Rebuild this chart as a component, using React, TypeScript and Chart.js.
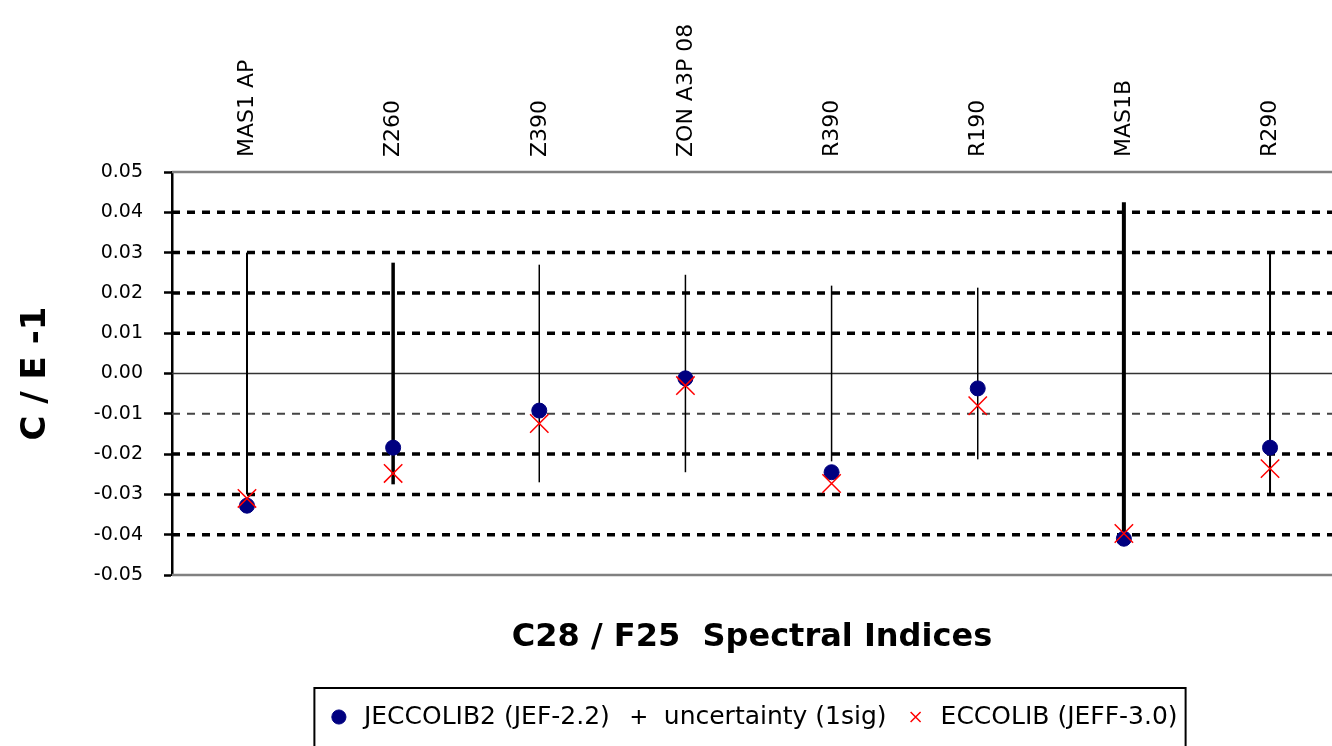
import React, { useEffect, useRef } from 'react';
import { Chart, registerables } from 'chart.js';

Chart.register(...registerables);

// ---- data ----
const categories = ['MAS1 AP', 'Z260', 'Z390', 'ZON A3P 08', 'R390', 'R190', 'MAS1B', 'R290'];
const jeccolib2 = [-0.0328, -0.0184, -0.0092, -0.0012, -0.0245, -0.0037, -0.0410, -0.0184];
const eccolib = [-0.0310, -0.0248, -0.0124, -0.0030, -0.0273, -0.0080, -0.0397, -0.0236];
const uncertainty = [0.0300, 0.0275, 0.0270, 0.0245, 0.0218, 0.0213, 0.0425, 0.0300];
const yTicks = [-0.05, -0.04, -0.03, -0.02, -0.01, 0, 0.01, 0.02, 0.03, 0.04, 0.05];

// ---- styles ----
const barWidths = [2, 3.5, 1.5, 1.5, 1.5, 1.5, 4, 2];
const X_MIN = -0.513;
const X_MAX = 7.424;
const FONT = "'DejaVu Sans', 'Liberation Sans', Arial, sans-serif";

function gridStyle(v: number) {
  if (Math.abs(Math.abs(v) - 0.05) < 1e-9) return { dash: [] as number[], width: 2.5, color: '#808080' };
  if (Math.abs(v) < 1e-9) return { dash: [] as number[], width: 1.5, color: '#333333' };
  if (Math.abs(v + 0.01) < 1e-9) return { dash: [8, 7], width: 2, color: '#444444' };
  return { dash: [8, 7], width: 3.5, color: '#000000' };
}

const zeroPadding = () => ({ left: 0, top: 0, right: 0, bottom: 0 });

export default function App() {
  const ref = useRef<HTMLCanvasElement>(null);

  useEffect(() => {
    const canvas = ref.current!;
    Chart.defaults.font.family = FONT;

    const barData: { x: number; y: number }[] = [];
    uncertainty.forEach((u, i) => {
      barData.push({ x: i, y: -u });
      barData.push({ x: i, y: u });
      barData.push({ x: i, y: NaN });
    });

    const gridPlugin = {
      id: 'gridLines',
      beforeDatasetsDraw(chart: any) {
        const { ctx, chartArea, scales } = chart;
        const y = scales.y;
        ctx.save();
        yTicks.forEach((v) => {
          const py = y.getPixelForValue(v);
          const s = gridStyle(v);
          ctx.beginPath();
          ctx.setLineDash(s.dash);
          ctx.lineWidth = s.width;
          ctx.strokeStyle = s.color;
          ctx.moveTo(chartArea.left, py);
          ctx.lineTo(chartArea.right, py);
          ctx.stroke();
        });
        ctx.restore();
      },
    };

    const legendBoxPlugin = {
      id: 'legendBox',
      afterDraw(chart: any) {
        const lg = chart.legend;
        const boxes = lg && lg.legendHitBoxes;
        if (!boxes || !boxes.length) return;
        const left = Math.min(...boxes.map((b: any) => b.left)) - 12;
        const right = Math.max(...boxes.map((b: any) => b.left + b.width)) + 8;
        const ctx = chart.ctx;
        ctx.save();
        ctx.strokeStyle = '#000';
        ctx.lineWidth = 2;
        ctx.strokeRect(left, lg.top, right - left, 120);
        ctx.restore();
      },
    };

    const chart = new Chart(canvas, {
      type: 'scatter',
      data: {
        datasets: [
          {
            type: 'scatter',
            label: 'JECCOLIB2 (JEF-2.2)',
            data: jeccolib2.map((y, i) => ({ x: i, y })),
            pointStyle: 'circle',
            pointRadius: 7.5,
            backgroundColor: '#000080',
            borderColor: '#000080',
            borderWidth: 1,
            order: 1,
          },
          {
            type: 'line',
            label: 'uncertainty (1sig)',
            data: barData,
            borderColor: '#000000',
            backgroundColor: '#000000',
            borderWidth: 1.5,
            pointRadius: 0,
            pointHoverRadius: 0,
            pointStyle: 'cross',
            pointBorderWidth: 2,
            spanGaps: false,
            segment: {
              borderWidth: (c: any) => barWidths[Math.floor(c.p0DataIndex / 3)],
            },
            order: 2,
          } as any,
          {
            type: 'scatter',
            label: 'ECCOLIB (JEFF-3.0)',
            data: eccolib.map((y, i) => ({ x: i, y })),
            pointStyle: 'crossRot',
            pointRadius: 13,
            backgroundColor: '#ff0000',
            borderColor: '#ff0000',
            borderWidth: 1.5,
            order: 0,
          },
        ],
      },
      options: {
        responsive: false,
        animation: false,
        events: [],
        layout: { autoPadding: false, padding: { top: 0, left: 0, right: 0, bottom: 6.5 } },
        scales: {
          x: {
            type: 'linear',
            position: 'top',
            min: X_MIN,
            max: X_MAX,
            grid: { display: false, drawTicks: false },
            border: { display: false },
            afterBuildTicks: (s: any) => {
              s.ticks = categories.map((_, i) => ({ value: i }));
            },
            afterFit: (s: any) => {
              s.height = 172;
              s.paddingLeft = 0;
              s.paddingRight = 0;
              s.getPadding = zeroPadding;
            },
            ticks: {
              autoSkip: false,
              minRotation: 90,
              maxRotation: 90,
              padding: 15,
              labelOffset: 27,
              color: '#000',
              font: { size: 22, family: FONT },
              callback: (v: any) => categories[v as number] ?? '',
            },
          },
          y: {
            type: 'linear',
            min: -0.05,
            max: 0.05,
            afterBuildTicks: (s: any) => {
              s.ticks = yTicks.map((v) => ({ value: v }));
            },
            afterFit: (s: any) => {
              s.width = 172;
              s.paddingLeft = 0;
              s.paddingRight = 0;
            },
            grid: {
              display: true,
              drawOnChartArea: false,
              drawTicks: true,
              tickLength: 8,
              tickColor: '#000',
              tickWidth: 2.5,
            },
            border: { display: true, color: '#000', width: 2.5 },
            ticks: {
              padding: 21,
              color: '#000',
              font: { size: 19, family: FONT },
              callback: (v: any) => (Math.abs(v) < 1e-9 ? 0 : v).toFixed(2),
            },
            title: {
              display: true,
              text: 'C / E -1',
              color: '#000',
              font: { size: 34, weight: 'bold', family: FONT },
              padding: { top: 16, bottom: 0 },
            },
          },
        },
        plugins: {
          tooltip: { enabled: false },
          legend: {
            display: true,
            position: 'bottom',
            fullSize: false,
            align: 'center',
            weight: 1000,
            labels: {
              usePointStyle: true,
              boxHeight: 10,
              padding: 16.5,
              color: '#000',
              font: { size: 25, family: FONT },
              sort: (a: any, b: any) => a.datasetIndex - b.datasetIndex,
            },
          } as any,
          title: {
            display: true,
            text: 'C28 / F25  Spectral Indices',
            position: 'bottom',
            fullSize: false,
            weight: 500,
            color: '#000',
            font: { size: 32, weight: 'bold', family: FONT },
            padding: { top: 43.8, bottom: 30.8 },
          } as any,
        },
      },
      plugins: [gridPlugin, legendBoxPlugin],
    });

    return () => chart.destroy();
  }, []);

  return (
    <div style={{ position: 'absolute', left: 0, top: 0, width: 1332, height: 746, background: '#fff' }}>
      <canvas ref={ref} width={1332} height={746} style={{ display: 'block' }} />
    </div>
  );
}
